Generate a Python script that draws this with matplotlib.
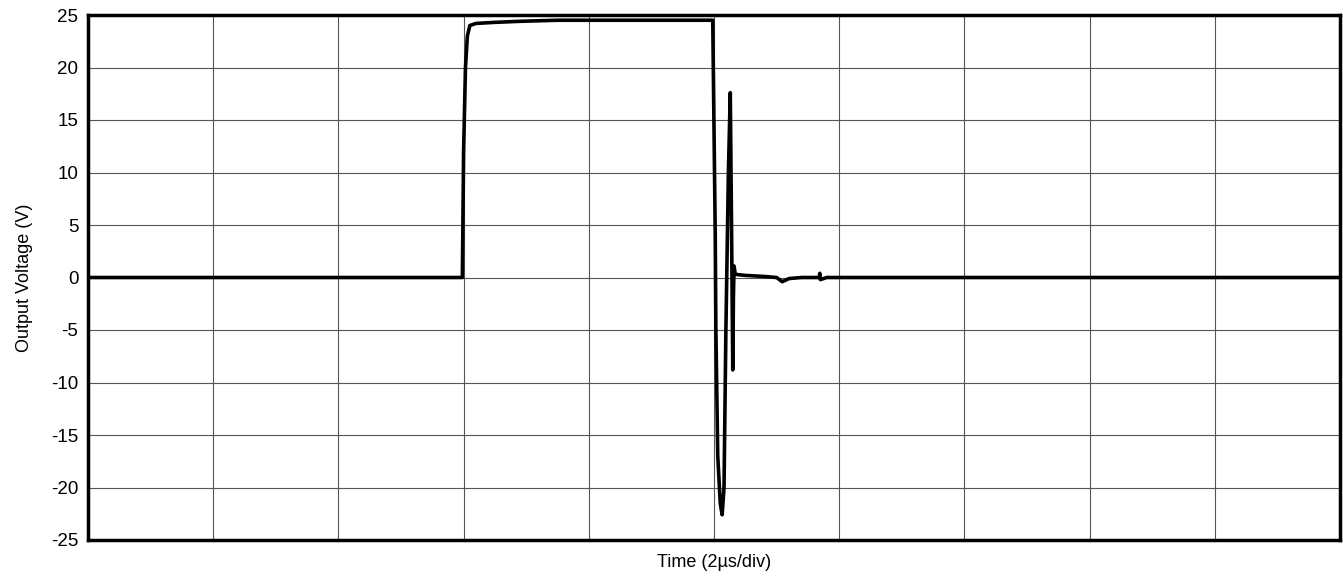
import numpy as np
import matplotlib.pyplot as plt

plt.rcParams['font.family'] = ['Liberation Sans', 'DejaVu Sans']
plt.rcParams['axes.unicode_minus'] = False

# Zeit in us (2 us/div, 10 div), Spannung in V
t = [0.0, 5.98,
     6.0, 6.03, 6.06, 6.10, 6.2, 6.5, 6.9, 7.5, 8.5, 9.5, 9.98,
     10.02, 10.03, 10.06, 10.10, 10.13, 10.16, 10.19, 10.23, 10.26,
     10.28, 10.30, 10.31, 10.32, 10.34, 10.5, 10.8, 11.0, 11.09, 11.2,
     11.4, 11.68, 11.69, 11.70, 11.8, 20.0]
v = [0.0, 0.0,
     12.0, 20.0, 23.0, 24.0, 24.2, 24.3, 24.4, 24.5, 24.5, 24.5, 24.5,
     4.0, -5.0, -17.0, -21.5, -22.6, -20.0, -5.0, 10.0, 17.6,
     5.0, -8.8, -2.0, 1.1, 0.3, 0.2, 0.1, 0.0, -0.4, -0.1,
     0.0, 0.0, 0.4, -0.2, 0.0, 0.0]
yticks = [-25, -20, -15, -10, -5, 0, 5, 10, 15, 20, 25]

fig = plt.figure(figsize=(13.43, 5.77), dpi=100)
ax = fig.add_axes([88/1343, 37/577, 1252/1343, 525/577])
ax.plot(t, v, color='black', lw=2.6, solid_joinstyle='round')
ax.set_xlim(0, 20)
ax.set_ylim(-25, 25)
ax.set_xticks(np.arange(0, 21, 2))
ax.set_xticklabels([])
ax.set_yticks(yticks)
ax.tick_params(length=0, labelsize=13.5, pad=7)
ax.grid(color='#555555', lw=0.8)
ax.set_axisbelow(True)
for s in ax.spines.values():
    s.set_linewidth(2.5)
ax.set_xlabel('Time (2µs/div)', fontsize=13, labelpad=3)
ax.set_ylabel('Output Voltage (V)', fontsize=13, labelpad=13)
fig.savefig('out.png', dpi=100)
